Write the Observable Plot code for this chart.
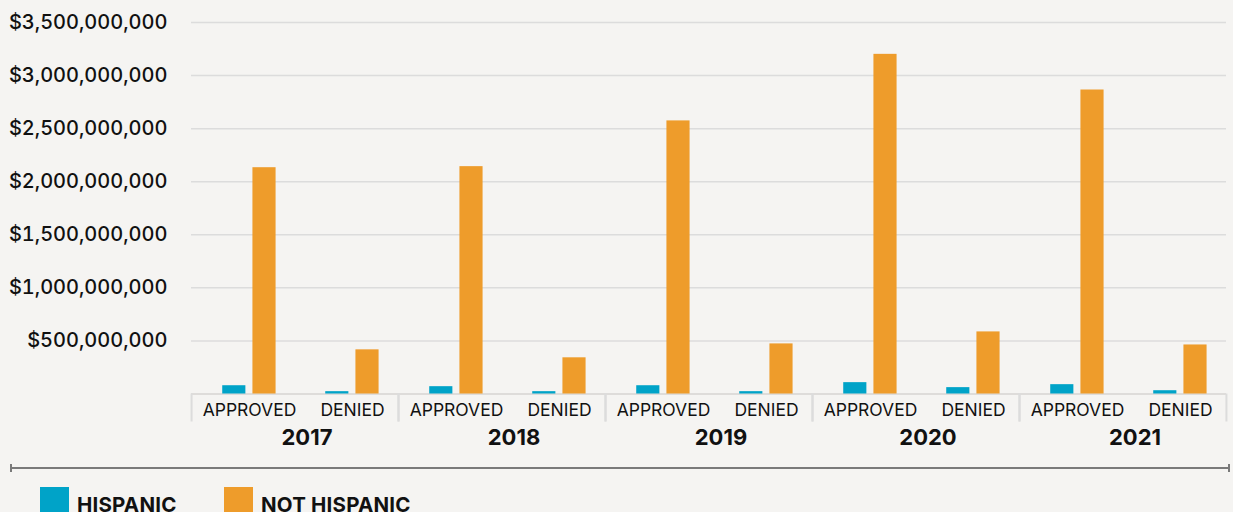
<!DOCTYPE html>
<html>
<head>
<meta charset="utf-8">
<script src="https://cdn.jsdelivr.net/npm/d3@7"></script>
<script src="https://cdn.jsdelivr.net/npm/@observablehq/plot@0.6"></script>
<style>
  html, body { margin: 0; padding: 0; background: #f5f4f2; }
  #wrap { position: relative; width: 1233px; height: 512px; overflow: hidden; font-family: Inter, "Open Sans", sans-serif; color: #111; }
  #chart svg { display: block; background: transparent; }
  #rule { position: absolute; left: 10px; top: 467px; width: 1220px; height: 2px; background: #7a7a7a; }
  #rule .cap { position: absolute; top: -3px; width: 2px; height: 8px; background: #7a7a7a; }
  .legend-item { position: absolute; top: 487px; display: flex; align-items: flex-start; }
  .legend-item .sw { width: 29px; height: 29px; margin-right: 8px; }
  .legend-item .lbl { font-weight: 700; font-size: 20.5px; line-height: 20px; margin-top: 8px; letter-spacing: 0.2px; }
</style>
</head>
<body>
<div id="wrap">
  <div id="chart"></div>
  <div id="rule"><div class="cap" style="left:0"></div><div class="cap" style="right:0"></div></div>
  <div id="legend"></div>
</div>
<script>
// ---- data ----
const years = ["2017", "2018", "2019", "2020", "2021"];
const types = ["APPROVED", "DENIED"];
const series = ["HISPANIC", "NOT HISPANIC"];
const seriesColors = ["#00a3c8", "#ee9c2b"];
// values ordered year by year: APPROVED, DENIED
const hispanic    = [78e6, 22e6, 69e6, 22e6, 78e6, 22e6, 107e6, 60e6, 88e6, 31e6];
const notHispanic = [2132e6, 416e6, 2142e6, 341e6, 2573e6, 472e6, 3200e6, 585e6, 2864e6, 462e6];
const yTicks = [500e6, 1000e6, 1500e6, 2000e6, 2500e6, 3000e6, 3500e6];

// ---- build rows ----
const rows = [];
years.forEach((yr, i) => {
  types.forEach((t, j) => {
    const k = i * types.length + j;
    rows.push({year: yr, type: t, series: series[0], value: hispanic[k]});
    rows.push({year: yr, type: t, series: series[1], value: notHispanic[k]});
  });
});

// ---- layout ----
const W = 1233, H = 460, ML = 189.5, MR = 5, MT = 22, MB = 66.5;
const facetW = (W - ML - MR) / years.length;
const bandW = facetW / types.length;
const barW = 24;
const inset = (bandW - barW) / 2;
const fmt = d3.format(",");

const chart = Plot.plot({
  width: W,
  height: H,
  marginLeft: ML,
  marginRight: MR,
  marginTop: MT,
  marginBottom: MB,
  style: {background: "transparent", fontFamily: "Inter, 'Open Sans', sans-serif", color: "#111"},
  fx: {domain: years, padding: 0, label: null},
  x: {domain: types, padding: 0, label: null},
  y: {domain: [0, 3500e6], label: null},
  color: {domain: series, range: seriesColors},
  marks: [
    Plot.gridY({ticks: yTicks, stroke: "#dcdcdc", strokeOpacity: 1, strokeWidth: 1.5}),
    Plot.ruleY([0], {stroke: "#dedcda", strokeWidth: 2}),
    Plot.barY(rows.filter(d => d.series === series[0]), {
      fx: "year", x: "type", y: "value", fill: "series",
      insetLeft: inset, insetRight: inset, dx: -9.2
    }),
    Plot.barY(rows.filter(d => d.series === series[1]), {
      fx: "year", x: "type", y: "value", fill: "series",
      insetLeft: inset, insetRight: inset, dx: 21
    }),
    Plot.axisY({
      ticks: yTicks, tickSize: 0, tickPadding: 24,
      tickFormat: d => "$" + fmt(d),
      fontSize: 20, fontWeight: 500, fill: "#111", label: null
    }),
    // box separators below baseline (facet edges)
    Plot.axisX({ticks: [types[0]], tickSize: 28, tickFormat: () => "", dx: -bandW / 2,
      stroke: "#dcdcdc", strokeWidth: 2, label: null}),
    Plot.axisX({ticks: [types[1]], tickSize: 28, tickFormat: () => "", dx: bandW / 2,
      stroke: "#dcdcdc", strokeWidth: 2, label: null}),
    Plot.axisX({tickSize: 0, tickPadding: 9.5, dx: 6, fontSize: 17.5, fill: "#111", label: null}),
    Plot.axisFx({anchor: "bottom", tickSize: 0, tickPadding: 35, dx: 12,
      fontSize: 22, fontWeight: 700, fill: "#111", label: null})
  ]
});
document.getElementById("chart").appendChild(chart);

// ---- legend ----
const legend = document.getElementById("legend");
const legendLeft = [40, 224];
series.forEach((s, i) => {
  const item = document.createElement("div");
  item.className = "legend-item";
  item.style.left = legendLeft[i] + "px";
  item.innerHTML = `<div class="sw" style="background:${seriesColors[i]}"></div><div class="lbl">${s}</div>`;
  legend.appendChild(item);
});
</script>
</body>
</html>
